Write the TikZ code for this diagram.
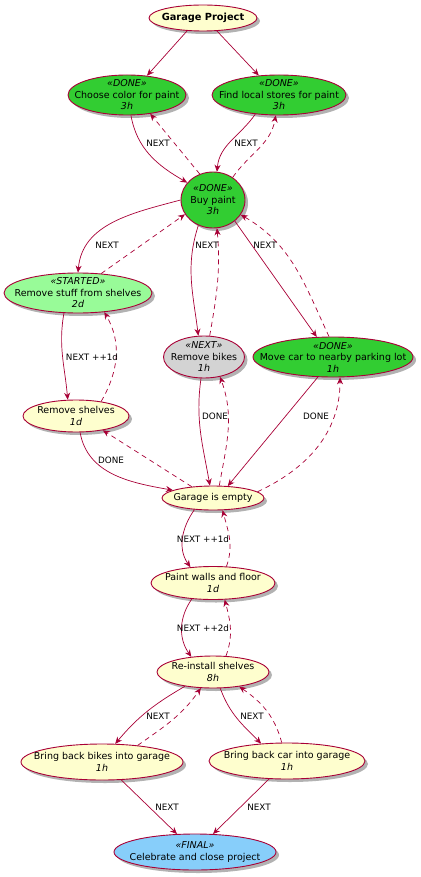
\documentclass[tikz,border=0pt]{standalone}
\usepackage{fontspec}
\setmainfont{DejaVu Sans}
\usetikzlibrary{shapes.geometric,arrows.meta,shadows}
\definecolor{bord}{HTML}{A80036}
\definecolor{yel}{HTML}{FEFECE}
\definecolor{donec}{HTML}{32CD32}
\definecolor{startc}{HTML}{98FB98}
\definecolor{nextc}{HTML}{D3D3D3}
\definecolor{finalc}{HTML}{87CEFA}
\begin{document}
\begin{tikzpicture}[x=1pt,y=1pt,
  task/.style={ellipse, draw=bord, line width=0.9pt, fill=yel, inner sep=0pt,
    drop shadow={shadow xshift=3pt, shadow yshift=-3pt, opacity=0.3, fill=black}},
  txt/.style={align=center, inner sep=0pt, font=\fontsize{9.5}{11.5}\selectfont},
  btxt/.style={align=center, inner sep=0pt, font=\fontsize{9.8}{11.5}\selectfont\bfseries},
  dn/.style={task, fill=donec},
  st/.style={task, fill=startc},
  nx/.style={task, fill=nextc},
  fn/.style={task, fill=finalc},
  e/.style={draw=bord, line width=0.7pt, -{Stealth[length=7pt,width=6pt]}},
  d/.style={e, dash pattern=on 5pt off 4pt},
  lab/.style={font=\fontsize{8.8}{10}\selectfont, inner sep=0pt}
]
\useasboundingbox (0,0) rectangle (420,-877);

\node[task, minimum width=108pt, minimum height=26pt, label={[btxt]center:Garage Project}] (gp) at (203,-18) {};
\node[dn, minimum width=118pt, minimum height=40pt, label={[txt]center:{\itshape «DONE»}\\Choose color for paint\\{\itshape 3h}}] (cc) at (127,-95) {};
\node[dn, minimum width=134pt, minimum height=40pt, label={[txt]center:{\itshape «DONE»}\\Find local stores for paint\\{\itshape 3h}}] (fl) at (279,-95) {};
\node[dn, minimum width=64pt, minimum height=56pt, label={[txt]center:{\itshape «DONE»}\\Buy paint\\{\itshape 3h}}] (bp) at (213,-200) {};
\node[st, minimum width=148pt, minimum height=40pt, label={[txt]center:{\itshape «STARTED»}\\Remove stuff from shelves\\{\itshape 2d}}] (rs) at (78,-293) {};
\node[nx, minimum width=81pt, minimum height=42pt, label={[txt]center:{\itshape «NEXT»}\\Remove bikes\\{\itshape 1h}}] (rb) at (204,-357) {};
\node[dn, minimum width=160pt, minimum height=40pt, label={[txt]center:{\itshape «DONE»}\\Move car to nearby parking lot\\{\itshape 1h}}] (mc) at (333,-357) {};
\node[task, minimum width=106pt, minimum height=32pt, label={[txt]center:Remove shelves\\{\itshape 1d}}] (rsh) at (76,-416) {};
\node[task, minimum width=102pt, minimum height=24pt, label={[txt]center:Garage is empty}] (ge) at (213,-498) {};
\node[task, minimum width=124pt, minimum height=33pt, label={[txt]center:Paint walls and floor\\{\itshape 1d}}] (pw) at (213,-583) {};
\node[task, minimum width=112pt, minimum height=32pt, label={[txt]center:Re-install shelves\\{\itshape 8h}}] (ri) at (213,-672) {};
\node[task, minimum width=162pt, minimum height=36pt, label={[txt]center:Bring back bikes into garage\\{\itshape 1h}}] (bb) at (102,-762) {};
\node[task, minimum width=156pt, minimum height=36pt, label={[txt]center:Bring back car into garage\\{\itshape 1h}}] (bc) at (287,-761) {};
\node[fn, minimum width=162pt, minimum height=36pt, label={[txt]center:{\itshape «FINAL»}\\Celebrate and close project}] (ce) at (195,-852) {};

\draw[e] (gp.219) -- (cc.44);
\draw[e] (gp.317) -- (fl.136);
\draw[e] (cc.281) to[out=-80,in=150] (bp.146);
\draw[d] (bp.117) -- (cc.321);
\draw[e] (fl.219) to[out=235,in=85] (bp.82);
\draw[d] (bp.49) to[out=55,in=-100] (fl.261);
\draw[e] (bp.180) to[out=195,in=85] (rs.90);
\draw[d] (rs.40) -- (bp.207);
\draw[e] (bp.240) to[out=252,in=97] (rb.105);
\draw[d] (rb.75) to[out=80,in=-85] (bp.278);
\draw[e] (bp.316) -- (mc.129);
\draw[d] (mc.101) to[out=115,in=-30] (bp.332);
\draw[e] (rs.235) to[out=260,in=95] (rsh.117);
\draw[d] (rsh.30) to[out=60,in=-60] (rs.324);
\draw[e] (rsh.284) to[out=-80,in=170] (ge.169);
\draw[d] (ge.152) -- (rsh.332);
\draw[e] (rb.262) to[out=262,in=100] (ge.104);
\draw[d] (ge.63) to[out=80,in=-70] (rb.309);
\draw[e] (mc.233) -- (ge.39);
\draw[d] (ge.8) to[out=25,in=-90] (mc.289);
\draw[e] (ge.212) to[out=235,in=125] (pw.145);
\draw[d] (pw.51) to[out=70,in=-75] (ge.308);
\draw[e] (pw.217) to[out=235,in=125] (ri.145);
\draw[d] (ri.51) to[out=70,in=-75] (pw.305);
\draw[e] (ri.207) to[out=210,in=50] (bb.54);
\draw[d] (bb.25) to[out=35,in=235] (ri.233);
\draw[e] (ri.294) to[out=-70,in=135] (bc.146);
\draw[d] (bc.106) to[out=105,in=-35] (ri.331);
\draw[e] (bb.317) -- (ce.135);
\draw[e] (bc.225) -- (ce.45);

\node[lab] (l1) at (158,-143) {NEXT};
\node[lab] (l2) at (246,-143) {NEXT};
\node[lab] (l3) at (107,-245) {NEXT};
\node[lab] (l4) at (207,-245) {NEXT};
\node[lab] (l5) at (265,-245) {NEXT};
\node[lab] (l6) at (92,-357) {NEXT ++1d};
\node[lab] (l7) at (111,-460) {DONE};
\node[lab] (l8) at (215,-416) {DONE};
\node[lab] (l9) at (316,-416) {DONE};
\node[lab] (l10) at (203,-539) {NEXT ++1d};
\node[lab] (l11) at (203,-628) {NEXT ++2d};
\node[lab] (l12) at (158,-716) {NEXT};
\node[lab] (l13) at (252,-716) {NEXT};
\node[lab] (l14) at (167,-807) {NEXT};
\node[lab] (l15) at (259,-807) {NEXT};
\end{tikzpicture}
\end{document}
